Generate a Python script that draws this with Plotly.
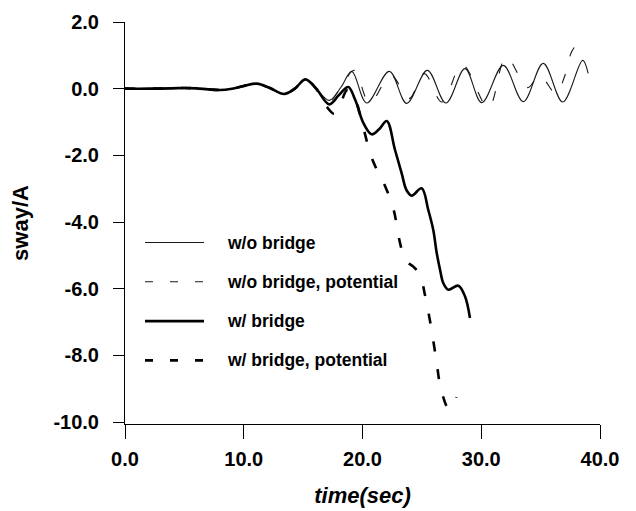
import plotly.graph_objects as go

# ---------------- data ----------------
t_wo = [0, 2, 4, 5, 6, 7, 8, 9, 10, 11.1, 12.2, 13.4, 14.3, 15.2, 16.1, 17.2, 18.2,
        19.1, 20.35, 22.26, 23.72, 25.46, 27.03, 28.63, 30.04, 31.86, 33.54, 35.22,
        36.86, 38.54, 39.0]
y_wo = [0, 0, 0.01, 0.02, 0.01, -0.02, -0.04, 0.0, 0.08, 0.15, 0.02, -0.16, 0.0, 0.28,
        0.0, -0.35, 0.05, 0.52, -0.43, 0.52, -0.44, 0.55, -0.43, 0.6, -0.42, 0.7,
        -0.39, 0.76, -0.4, 0.85, 0.46]

t_wo_pot = [0, 2, 4, 5, 6, 7, 8, 9, 10, 11.1, 12.2, 13.4, 14.3, 15.2, 16.1, 17.2, 18.2,
            19.3, 20.6, 22.4, 23.9, 25.2, 26.7, 28.4, 30.6, 32.1, 33.9, 34.9, 36.3,
            37.0, 37.6, 38.2]
y_wo_pot = [0, 0, 0.01, 0.02, 0.01, -0.02, -0.04, 0.0, 0.08, 0.15, 0.02, -0.16, 0.0, 0.28,
            0.0, -0.37, 0.05, 0.55, -0.42, 0.4, -0.3, 0.45, -0.4, 0.72, -0.57, 0.95,
            0.03, 0.4, -0.15, 0.35, 1.1, 1.4]

t_w = [0, 2, 4, 5, 6, 7, 8, 9, 10, 11.1, 12.2, 13.4, 14.3, 15.2, 16.1, 17.2, 18.0,
       18.8, 19.4, 20.1, 20.77, 21.4, 22.04, 22.74, 23.3, 23.7, 24.14, 24.98, 25.54,
       25.96, 26.25, 26.53, 26.8, 27.23, 28.07, 28.63, 29.05]
y_w = [0, 0, 0.01, 0.02, 0.01, -0.02, -0.04, 0.0, 0.08, 0.15, 0.02, -0.16, 0.0, 0.28,
       0.0, -0.47, -0.2, 0.05, -0.35, -1.05, -1.37, -1.22, -0.97, -1.84, -2.54, -3.04,
       -3.21, -2.99, -3.64, -4.24, -4.93, -5.43, -5.83, -6.03, -5.91, -6.23, -6.88]

t_w_pot = [0, 2, 4, 5, 6, 7, 8, 9, 10, 11.1, 12.2, 13.4, 14.3, 15.2, 16.1, 16.9, 17.6,
           18.1, 18.7, 19.3, 20.05, 20.7, 21.3, 21.75, 22.6, 23.05, 23.4, 23.72, 24.28,
           24.84, 25.26, 25.7, 26.2, 26.6, 27.25, 27.55, 27.9]
y_w_pot = [0, 0, 0.01, 0.02, 0.01, -0.02, -0.04, 0.0, 0.08, 0.15, 0.02, -0.16, 0.0, 0.28,
           0.0, -0.5, -0.75, -0.5, -0.05, -0.25, -1.15, -2.0, -2.5, -2.8, -3.6, -4.45,
           -4.95, -5.19, -5.34, -5.58, -6.19, -7.0, -8.1, -9.0, -9.6, -9.55, -9.25]

series_names = ["w/o bridge", "w/o bridge, potential", "w/ bridge", "w/ bridge, potential"]

x_tick_vals = [0, 10, 20, 30, 40]
x_tick_text = ["0.0", "10.0", "20.0", "30.0", "40.0"]
y_tick_vals = [2, 0, -2, -4, -6, -8, -10]
y_tick_text = ["2.0", "0.0", "-2.0", "-4.0", "-6.0", "-8.0", "-10.0"]

# ---------------- styling ----------------
W, H = 636, 511
ML, MR, MT, MB = 125, 36, 22, 87
FONT = "Liberation Sans, Arial, Helvetica, sans-serif"
DASH = "10px,18px"

styles = [
    dict(width=1.1, dash="solid", color="#1a1a1a"),
    dict(width=1.1, dash=DASH, color="#1a1a1a"),
    dict(width=2.6, dash="solid", color="#000000"),
    dict(width=2.6, dash=DASH, color="#000000"),
]
data = [(t_wo, y_wo), (t_wo_pot, y_wo_pot), (t_w, y_w), (t_w_pot, y_w_pot)]

fig = go.Figure()
for (tx, ty), name, st in zip(data, series_names, styles):
    fig.add_trace(go.Scatter(x=tx, y=ty, mode="lines", name=name,
                             line=dict(shape="spline", smoothing=1.0, **st),
                             showlegend=False))

# manual legend (samples + labels) in paper coordinates
pw, ph = W - ML - MR, H - MT - MB
def px2paper_x(px):
    return (px - ML) / pw
def py2paper_y(py):
    return (H - MB - py) / ph

leg_rows = [242.5, 281.8, 321.1, 360.4]
shapes = []
annotations = []
for name, st, ry in zip(series_names, styles, leg_rows):
    dash = "solid" if st["dash"] == "solid" else "8px,17px"
    shapes.append(dict(type="line", xref="paper", yref="paper",
                       x0=px2paper_x(145), x1=px2paper_x(204),
                       y0=py2paper_y(ry), y1=py2paper_y(ry),
                       line=dict(color=st["color"], width=st["width"], dash=dash)))
    annotations.append(dict(xref="paper", yref="paper", x=px2paper_x(225),
                            y=py2paper_y(ry), text=name, showarrow=False,
                            xanchor="left", yanchor="middle",
                            font=dict(family=FONT, size=17.5, color="#000", weight="bold")))

fig.update_layout(
    width=W, height=H,
    margin=dict(l=ML, r=MR, t=MT, b=MB, pad=0, autoexpand=False),
    paper_bgcolor="white", plot_bgcolor="white",
    showlegend=False,
    shapes=shapes, annotations=annotations,
    font=dict(family=FONT, color="#000"),
)
fig.update_xaxes(range=[0, 40], tickvals=x_tick_vals, ticktext=x_tick_text,
                 automargin=False,
                 ticks="outside", ticklen=14, tickwidth=1, tickcolor="#000",
                 showline=True, linecolor="#000", linewidth=1,
                 showgrid=False, zeroline=False,
                 ticklabelstandoff=3,
                 tickfont=dict(family=FONT, size=20, color="#000", weight="bold"),
                 title=dict(text="time(sec)", standoff=18,
                            font=dict(family=FONT, size=22, color="#000",
                                      weight="bold", style="italic")))
fig.update_yaxes(range=[-10.06, 2.0], tickvals=y_tick_vals, ticktext=y_tick_text,
                 automargin=False,
                 ticks="outside", ticklen=11, tickwidth=1, tickcolor="#000",
                 showline=True, linecolor="#000", linewidth=1,
                 showgrid=False, zeroline=False,
                 ticklabelstandoff=10,
                 tickfont=dict(family=FONT, size=20, color="#000", weight="bold"),
                 title=dict(text="sway/A", standoff=18,
                            font=dict(family=FONT, size=22, color="#000", weight="bold")))

fig.write_html("out.html")
